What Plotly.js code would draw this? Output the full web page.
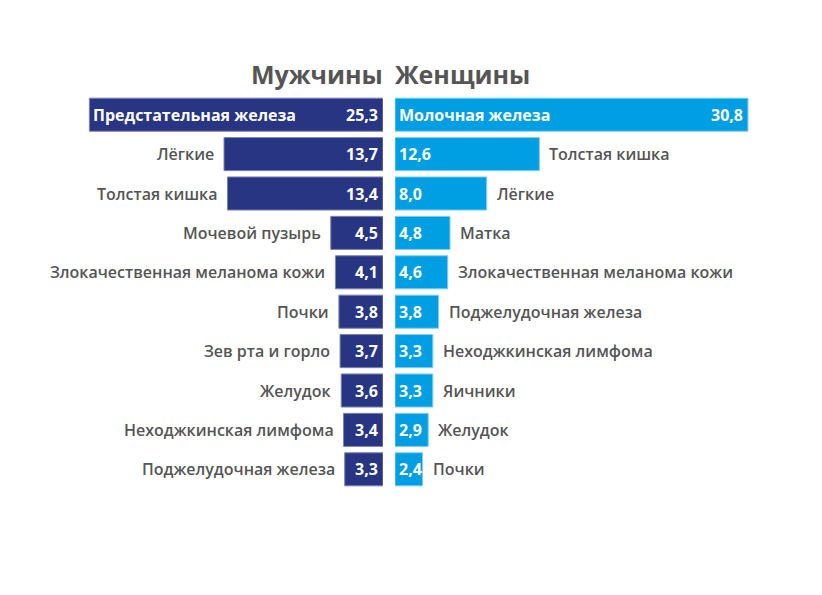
<!DOCTYPE html>
<html>
<head>
<meta charset="utf-8">
<script src="https://cdn.plot.ly/plotly-3.0.1.min.js"></script>
<style>html,body{margin:0;padding:0;background:#fff;}#chart{width:822px;height:595px;}</style>
</head>
<body>
<div id="chart"></div>
<script>
var menCats = ['Предстательная железа','Лёгкие','Толстая кишка','Мочевой пузырь','Злокачественная меланома кожи','Почки','Зев рта и горло','Желудок','Неходжкинская лимфома','Поджелудочная железа'];
var menVals = [25.3,13.7,13.4,4.5,4.1,3.8,3.7,3.6,3.4,3.3];
var womenCats = ['Молочная железа','Толстая кишка','Лёгкие','Матка','Злокачественная меланома кожи','Поджелудочная железа','Неходжкинская лимфома','Яичники','Желудок','Почки'];
var womenVals = [30.8,12.6,8.0,4.8,4.6,3.8,3.3,3.3,2.9,2.4];
var titles = ['Мужчины','Женщины'];

var FONT = 'Open Sans, Noto Sans, sans-serif';
var W = 822;
var menColor = '#283583', womenColor = '#009fe3';
var fmt = function(v){ return v.toFixed(1).replace('.', ','); };
var idx = function(arr){ return arr.map(function(_, i){ return i; }); };

var traces = [
  {type:'bar', orientation:'h', x: menVals, y: idx(menVals), xaxis:'x', yaxis:'y', width:0.84,
   marker:{color:menColor, line:{color:'#7c83b5', width:1}}, hoverinfo:'none'},
  {type:'bar', orientation:'h', x: womenVals, y: idx(womenVals), xaxis:'x2', yaxis:'y', width:0.84,
   marker:{color:womenColor, line:{color:'#80cff1', width:1}}, hoverinfo:'none'}
];

var ann = [];
var labFont = {family:FONT, size:16, color:'#555555', weight:600};
var valFont = {family:FONT, size:16, color:'#ffffff', weight:700};
menVals.forEach(function(v, i){
  ann.push({xref:'x', yref:'y', x:0, y:i, text:fmt(v), showarrow:false, xanchor:'right', xshift:-3, font:valFont});
  if (i === 0) {
    ann.push({xref:'x', yref:'y', x:v, y:i, text:menCats[i], showarrow:false, xanchor:'left', xshift:2, font:valFont});
  } else {
    ann.push({xref:'x', yref:'y', x:v, y:i, text:menCats[i], showarrow:false, xanchor:'right', xshift:-8, font:labFont});
  }
});
womenVals.forEach(function(v, i){
  if (i === 0) {
    ann.push({xref:'x2', yref:'y', x:0, y:i, text:womenCats[i], showarrow:false, xanchor:'left', xshift:2, font:valFont});
    ann.push({xref:'x2', yref:'y', x:v, y:i, text:fmt(v), showarrow:false, xanchor:'right', xshift:-3, font:valFont});
  } else {
    ann.push({xref:'x2', yref:'y', x:0, y:i, text:fmt(v), showarrow:false, xanchor:'left', xshift:2, font:valFont});
    ann.push({xref:'x2', yref:'y', x:v, y:i, text:womenCats[i], showarrow:false, xanchor:'left', xshift:8, font:labFont});
  }
});
var titleFont = {family:FONT, size:25, color:'#555555', weight:700};
ann.push({xref:'paper', yref:'paper', x:385/W, y:1.053, text:titles[0], showarrow:false, xanchor:'right', yanchor:'middle', font:titleFont});
ann.push({xref:'paper', yref:'paper', x:393/W, y:1.053, text:titles[1], showarrow:false, xanchor:'left', yanchor:'middle', font:titleFont});

var layout = {
  width: 822, height: 595,
  margin: {l:0, r:0, t:95, b:106},
  paper_bgcolor:'#ffffff', plot_bgcolor:'rgba(0,0,0,0)',
  showlegend:false,
  xaxis: {domain:[0, 383/W], range:[33.0, 0], visible:false, fixedrange:true},
  xaxis2: {domain:[395/W, 1], range:[0, 37.26], visible:false, fixedrange:true},
  yaxis: {range:[9.5, -0.5], visible:false, fixedrange:true},
  annotations: ann,
  font:{family:FONT}
};
Plotly.newPlot('chart', traces, layout, {displayModeBar:false, staticPlot:true});
</script>
</body>
</html>
